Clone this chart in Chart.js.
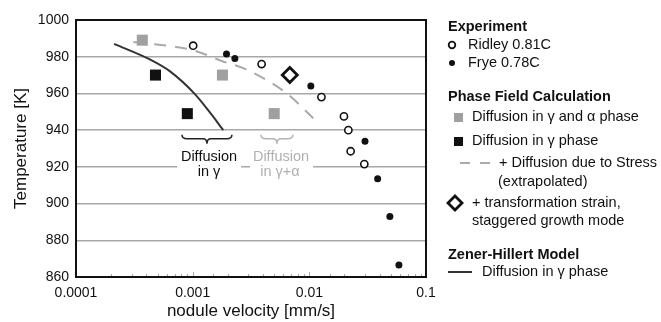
<!DOCTYPE html>
<html>
<head>
<meta charset="utf-8">
<script src="https://cdn.jsdelivr.net/npm/chart.js@4.4.1/dist/chart.umd.min.js"></script>
<style>
html, body { margin: 0; padding: 0; background: #fff; }
</style>
</head>
<body>
<canvas id="myChart" width="661" height="322"></canvas>
<script>
// 實驗數據 (nodule velocity mm/s, temperature K)
var ridleyV = [0.00101, 0.0039, 0.0127, 0.0198, 0.0216, 0.0226, 0.0296];
var ridleyT = [986, 976, 958, 947.5, 940, 928.5, 921.5];
var fryeV = [0.00195, 0.0023, 0.0103, 0.030, 0.0385, 0.049, 0.0586];
var fryeT = [981.5, 979, 964, 934, 913.5, 893, 866.5];

// Phase field calculation
var gammaAlphaV = [0.00037, 0.0018, 0.005];
var gammaAlphaT = [989, 970, 949];
var gammaV = [0.00048, 0.0009];
var gammaT = [970, 949];
var stressV = [0.00031, 0.00101, 0.0018, 0.0029, 0.0064, 0.0108];
var stressT = [988, 983.5, 977.5, 973, 960, 946.5];
var strainV = [0.0068];
var strainT = [970];

// Zener-Hillert model
var zenerV = [0.000212, 0.00043, 0.00064, 0.00105, 0.00141, 0.00183];
var zenerT = [987, 978.5, 972, 959.5, 949.5, 940];

// 軸標籤
var xTickLabels = ['0.0001', '0.001', '0.01', '0.1'];
var yTicks = [860, 880, 900, 920, 940, 960, 980, 1000];

var FONT = '"Liberation Sans", Arial, sans-serif';

function pts(xs, ys) {
    return xs.map(function (x, i) { return { x: x, y: ys[i] }; });
}

// 大括號
function brace(ctx, x1, x2, y) {
    var xm = (x1 + x2) / 2;
    ctx.beginPath();
    ctx.moveTo(x1, y);
    ctx.quadraticCurveTo(x1, y + 4, x1 + 5, y + 4);
    ctx.lineTo(xm - 4, y + 4);
    ctx.quadraticCurveTo(xm, y + 4, xm, y + 9);
    ctx.quadraticCurveTo(xm, y + 4, xm + 4, y + 4);
    ctx.lineTo(x2 - 5, y + 4);
    ctx.quadraticCurveTo(x2, y + 4, x2, y);
    ctx.stroke();
}

var overlay = {
    id: 'overlay',
    beforeDatasetsDraw: function (chart) {
        var ctx = chart.ctx;
        var xs = chart.scales.x, ys = chart.scales.y;
        ctx.save();
        // 註解文字的白底
        ctx.fillStyle = '#fff';
        ctx.fillRect(177, 147, 64, 34);
        ctx.fillRect(250, 147, 63, 34);
        // 括號
        ctx.lineWidth = 1.5;
        ctx.strokeStyle = '#222';
        brace(ctx, xs.getPixelForValue(0.00081), xs.getPixelForValue(0.00217), ys.getPixelForValue(937.5));
        ctx.strokeStyle = '#b4b4b4';
        brace(ctx, xs.getPixelForValue(0.00385), xs.getPixelForValue(0.00723), ys.getPixelForValue(937.5));
        ctx.font = '14.5px ' + FONT;
        ctx.textAlign = 'center';
        ctx.textBaseline = 'middle';
        ctx.fillStyle = '#111';
        ctx.fillText('Diffusion', 209, 157);
        ctx.fillText('in γ', 209, 172);
        ctx.fillStyle = '#b0b0b0';
        ctx.fillText('Diffusion', 281, 157);
        ctx.fillText('in γ+α', 280, 172);
        ctx.restore();
    },
    afterDraw: function (chart) {
        var ctx = chart.ctx;
        var a = chart.chartArea;
        var xs = chart.scales.x;
        ctx.save();
        // 次刻度
        ctx.strokeStyle = '#aaa';
        ctx.lineWidth = 1;
        xs.ticks.forEach(function (t) {
            var px = Math.round(xs.getPixelForValue(t.value)) + 0.5;
            if (px <= a.left + 1 || px >= a.right - 1) return;
            var major = Math.abs(Math.log10(t.value) - Math.round(Math.log10(t.value))) < 1e-6;
            ctx.beginPath();
            ctx.moveTo(px, a.bottom);
            ctx.lineTo(px, a.bottom - (major ? 5 : 3));
            ctx.stroke();
        });
        // 外框
        ctx.strokeStyle = '#111';
        ctx.lineWidth = 2;
        ctx.strokeRect(a.left, a.top, a.right - a.left, a.bottom - a.top);

        // 圖例
        ctx.fillStyle = '#111';
        ctx.textAlign = 'left';
        ctx.textBaseline = 'middle';
        ctx.font = 'bold 14.5px ' + FONT;
        ctx.fillText('Experiment', 448, 27);
        ctx.fillText('Phase Field Calculation', 448, 97);
        ctx.fillText('Zener-Hillert Model', 448, 255);
        ctx.font = '14.5px ' + FONT;
        ctx.fillText('Ridley 0.81C', 468, 45);
        ctx.fillText('Frye 0.78C', 468, 63);
        ctx.fillText('Diffusion in γ and α phase', 472, 117);
        ctx.fillText('Diffusion in γ phase', 472, 141);
        ctx.fillText('+ Diffusion due to Stress', 499, 163);
        ctx.fillText('(extrapolated)', 498, 182);
        ctx.fillText('+ transformation strain,', 472, 203);
        ctx.fillText('staggered growth mode', 472, 221);
        ctx.fillText('Diffusion in γ phase', 482, 272);

        // 圖例符號
        ctx.lineWidth = 1.8;
        ctx.strokeStyle = '#111';
        ctx.fillStyle = '#fff';
        ctx.beginPath(); ctx.arc(452, 45, 3.3, 0, Math.PI * 2); ctx.fill(); ctx.stroke();
        ctx.fillStyle = '#111';
        ctx.beginPath(); ctx.arc(452, 63, 3, 0, Math.PI * 2); ctx.fill();
        ctx.fillStyle = '#a0a0a0';
        ctx.fillRect(454, 113, 9, 9);
        ctx.fillStyle = '#111';
        ctx.fillRect(454, 137, 9, 9);
        ctx.strokeStyle = '#aaa';
        ctx.lineWidth = 2;
        ctx.beginPath();
        ctx.moveTo(460, 163); ctx.lineTo(470, 163);
        ctx.moveTo(480, 163); ctx.lineTo(490, 163);
        ctx.stroke();
        ctx.strokeStyle = '#111';
        ctx.lineWidth = 2.8;
        ctx.fillStyle = '#fff';
        ctx.beginPath();
        ctx.moveTo(455, 196); ctx.lineTo(462, 203); ctx.lineTo(455, 210); ctx.lineTo(448, 203);
        ctx.closePath(); ctx.fill(); ctx.stroke();
        ctx.strokeStyle = '#333';
        ctx.lineWidth = 2;
        ctx.beginPath(); ctx.moveTo(448, 272); ctx.lineTo(472, 272); ctx.stroke();
        ctx.restore();
    }
};

var ctx = document.getElementById('myChart').getContext('2d');
var chart = new Chart(ctx, {
    type: 'scatter',
    data: {
        datasets: [{
            label: 'Zener-Hillert',
            data: pts(zenerV, zenerT),
            showLine: true,
            borderColor: '#333',
            borderWidth: 2,
            pointRadius: 0,
            cubicInterpolationMode: 'monotone',
            order: 10
        }, {
            label: 'Stress',
            data: pts(stressV, stressT),
            showLine: true,
            borderColor: '#aaa',
            borderWidth: 2,
            borderDash: [12, 9],
            pointRadius: 0,
            cubicInterpolationMode: 'monotone',
            order: 9
        }, {
            label: 'Diffusion in γ and α phase',
            data: pts(gammaAlphaV, gammaAlphaT),
            pointStyle: 'rect',
            pointRadius: 7.8,
            backgroundColor: '#a0a0a0',
            borderWidth: 0,
            order: 3
        }, {
            label: 'Diffusion in γ phase',
            data: pts(gammaV, gammaT),
            pointStyle: 'rect',
            pointRadius: 7.8,
            backgroundColor: '#111',
            borderWidth: 0,
            order: 3
        }, {
            label: 'transformation strain',
            data: pts(strainV, strainT),
            pointStyle: 'rectRot',
            pointRadius: 7.5,
            backgroundColor: '#fff',
            borderColor: '#111',
            borderWidth: 2.8,
            order: 2
        }, {
            label: 'Ridley 0.81C',
            data: pts(ridleyV, ridleyT),
            pointRadius: 3.6,
            backgroundColor: '#fff',
            borderColor: '#111',
            borderWidth: 1.6,
            order: 1
        }, {
            label: 'Frye 0.78C',
            data: pts(fryeV, fryeT),
            pointRadius: 3.5,
            backgroundColor: '#111',
            borderWidth: 0,
            order: 1
        }]
    },
    options: {
        responsive: false,
        animation: false,
        layout: { padding: { left: 0, top: 20, right: 235, bottom: 0 } },
        plugins: {
            legend: { display: false },
            tooltip: { enabled: false }
        },
        scales: {
            x: {
                type: 'logarithmic',
                min: 0.0001,
                max: 0.1,
                afterFit: function (s) { s.height = 45; },
                grid: { display: false, drawTicks: false },
                border: { display: false },
                ticks: {
                    autoSkip: false,
                    maxRotation: 0,
                    padding: 8,
                    color: '#111',
                    font: { family: FONT, size: 14 },
                    callback: function (v) {
                        var l = Math.log10(v);
                        if (Math.abs(l - Math.round(l)) > 1e-6) return '';
                        return xTickLabels[Math.round(l) + 4];
                    }
                },
                title: {
                    display: true,
                    text: 'nodule velocity [mm/s]',
                    color: '#111',
                    font: { family: FONT, size: 17 },
                    padding: { top: 0, bottom: 0 }
                }
            },
            y: {
                min: yTicks[0],
                max: yTicks[yTicks.length - 1],
                afterFit: function (s) { s.width = 76; },
                afterBuildTicks: function (s) { s.ticks = yTicks.map(function (v) { return { value: v }; }); },
                grid: {
                    drawTicks: false,
                    lineWidth: 1.5,
                    color: function (c) {
                        var v = c.tick && c.tick.value;
                        return (v === 860 || v === 1000) ? 'rgba(0,0,0,0)' : '#a8a8a8';
                    }
                },
                border: { display: false },
                ticks: {
                    padding: 7,
                    color: '#111',
                    font: { family: FONT, size: 14 },
                    callback: function (v) { return String(v); }
                },
                title: {
                    display: true,
                    text: 'Temperature [K]',
                    color: '#111',
                    font: { family: FONT, size: 17 },
                    padding: { top: 11, bottom: 0 }
                }
            }
        }
    },
    plugins: [overlay]
});
</script>
</body>
</html>
